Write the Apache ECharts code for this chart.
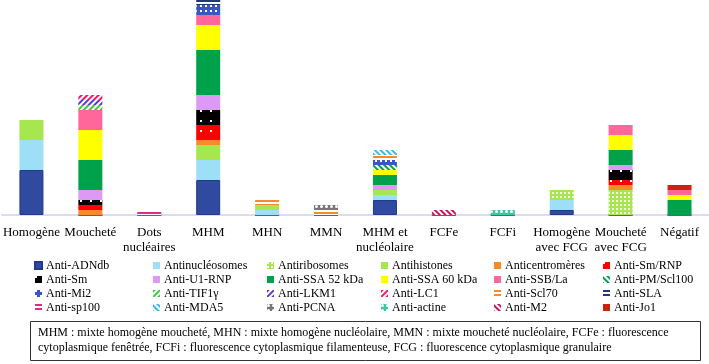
<!DOCTYPE html>
<html>
<head>
<meta charset="utf-8">
<script src="https://cdn.jsdelivr.net/npm/echarts@6/dist/echarts.min.js"></script>
<style>
html,body{margin:0;padding:0;background:#fff;}
#c{width:709px;height:364px;}
</style>
</head>
<body>
<div id="c"></div>
<script>
const categories = ['Homogène','Moucheté','Dots\nnucléaires','MHM','MHN','MMN','MHM et\nnucléolaire','FCFe','FCFi','Homogène\navec FCG','Moucheté\navec FCG','Négatif'];

const seriesNames = ['Anti-ADNdb','Antinucléosomes','Antiribosomes','Antihistones','Anticentromères','Anti-Sm/RNP',
  'Anti-Sm','Anti-U1-RNP','Anti-SSA 52 kDa','Anti-SSA 60 kDa','Anti-SSB/La','Anti-PM/Scl100',
  'Anti-Mi2','Anti-TIF1γ','Anti-LKM1','Anti-LC1','Anti-Scl70','Anti-SLA',
  'Anti-sp100','Anti-MDA5','Anti-PCNA','Anti-actine','Anti-M2','Anti-Jo1'];

// values per series, in category order
const adndb        = [9,0,0,7,0,0,3,0,0,1,0,0];
const nucleosomes  = [6,0,0,4,1,0,1,0,0,2,0,0];
const ribosomes    = [0,0,0,0,0,0,0,0,0,2,5,0];
const histones     = [4,0,0,3,1,0,1,0,0,0,0,0];
const centromeres  = [0,1,0,1,0,0,0,0,0,0,1,0];
const smRnp        = [0,1,0,3,0,0,0,0,0,0,1,0];
const sm           = [0,1,0,3,0,0,0,0,0,0,2,0];
const u1rnp        = [0,2,0,3,0,0,1,0,0,0,1,0];
const ssa52        = [0,6,0,9,0,0,2,0,0,0,3,3];
const ssa60        = [0,6,0,5,0,0,1,0,0,0,3,1];
const ssbLa        = [0,4,0,2,0,0,0,0,0,0,2,1];
const pmScl100     = [0,0,0,0,0,0,1,0,0,0,0,0];
const mi2          = [0,0,0,2,0,0,1,0,0,0,0,0];
const tif1g        = [0,1,0,0,0,0,0,0,0,0,0,0];
const lkm1         = [0,1,0,0,0,0,0,0,0,0,0,0];
const lc1          = [0,1,0,0,0,0,0,0,0,0,0,0];
const scl70        = [0,0,0,0,1,1,1,0,0,0,0,0];
const sla          = [0,0,0,1,0,0,0,0,0,0,0,0];
const sp100        = [0,0,1,0,0,0,0,0,0,0,0,0];
const mda5         = [0,0,0,0,0,0,1,0,0,0,0,0];
const pcna         = [0,0,0,0,0,1,0,0,0,0,0,0];
const actine       = [0,0,0,0,0,0,0,0,1,0,0,0];
const m2           = [0,0,0,0,0,0,0,1,0,0,0,0];
const jo1          = [0,0,0,0,0,0,0,0,0,0,0,1];

const seriesValues = [adndb,nucleosomes,ribosomes,histones,centromeres,smRnp,sm,u1rnp,ssa52,ssa60,ssbLa,pmScl100,
  mi2,tif1g,lkm1,lc1,scl70,sla,sp100,mda5,pcna,actine,m2,jo1];

const footnote = ['MHM : mixte homogène moucheté, MHN : mixte homogène nucléolaire, MMN : mixte moucheté nucléolaire, FCFe : fluorescence',
  'cytoplasmique fenêtrée, FCFi : fluorescence cytoplasmique filamenteuse, FCG : fluorescence cytoplasmique granulaire'];

// styles
const D = Math.PI/4;
function stripes(c, rot, w, g){ return {color:'#ffffff', decal:{symbol:'rect', color:c, dashArrayX:[1,0], dashArrayY:[w||2,g||2], rotation:rot||0}}; }
function dots(base, dc, s, g, sym){ return {color:base, decal:{symbol:sym||'rect', color:dc, dashArrayX:[s,g], dashArrayY:[s,g], rotation:0}}; }
const styles = [
  {color:'#2F4A9E', borderColor:'#22388A', borderWidth:1},
  {color:'#9DDFF7'},
  dots('#A6E64E','rgba(255,255,255,0.85)',1.5,2),
  {color:'#A6E64E'},
  {color:'#F98A2A'},
  dots('#FF0000','#ffffff',2,8),
  dots('#000000','#ffffff',2,8),
  {color:'#DD9AF5'},
  {color:'#00A14B'},
  {color:'#FFFF00'},
  {color:'#FF6699'},
  stripes('#00A14B', D, 2, 2),
  dots('#3A56C6','#ffffff',2,3),
  stripes('#33CC33', -D, 2, 2),
  stripes('#6633CC', -D, 2, 2),
  stripes('#FF1166', -D, 2, 2),
  stripes('#F98A2A', 0, 2, 2),
  stripes('#1F3A7A', 0, 2, 2),
  stripes('#D62E86', 0, 2, 2),
  stripes('#33BBEE', D, 2, 2),
  dots('#777777','#ffffff',3,2,'circle'),
  dots('#3CC8A0','#ffffff',3,2,'circle'),
  stripes('#D0105A', D, 2, 2),
  {color:'#CC2211'}
];

const FONT = '"Liberation Serif", "Times New Roman", serif';

const series = seriesNames.map((n,i)=>({
  name:n, type:'bar', stack:'all', barWidth:24,
  data:seriesValues[i],
  itemStyle:Object.assign({}, styles[i]),
  emphasis:{disabled:true},
  animation:false
}));

const colX = [34,153,267,381,494,603];
const legends = colX.map((x,ci)=>({
  orient:'vertical', left:x, top:259,
  itemWidth:7, itemHeight:7, itemGap:1, icon:'rect', padding:0,
  selectedMode:false,
  textStyle:{fontFamily:FONT, fontSize:12, color:'#000', lineHeight:13, padding:[0,0,0,-1]},
  data:[0,1,2,3].map(r=>seriesNames[r*6+ci])
}));

const chart = echarts.init(document.getElementById('c'), null, {renderer:'canvas'});
chart.setOption({
  animation:false,
  grid:{left:0,right:0,top:0,bottom:149,containLabel:false},
  xAxis:{type:'category', data:categories,
    axisLine:{lineStyle:{color:'#DCDCEB', width:2}},
    axisTick:{show:false},
    axisLabel:{interval:0, fontFamily:FONT, fontSize:13, color:'#000', margin:10, lineHeight:15}
  },
  yAxis:{type:'value', min:0, max:43, show:false, splitLine:{show:false}},
  legend:legends,
  series:series,
  graphic:[
    {type:'rect', left:30, top:321, shape:{width:670, height:39}, style:{fill:'#fff', stroke:'#333', lineWidth:1}},
    {type:'text', left:38, top:327, style:{text:footnote[0], font:'12px '+FONT, fill:'#000'}},
    {type:'text', left:38, top:342, style:{text:footnote[1], font:'12px '+FONT, fill:'#000'}}
  ]
});
</script>
</body>
</html>
